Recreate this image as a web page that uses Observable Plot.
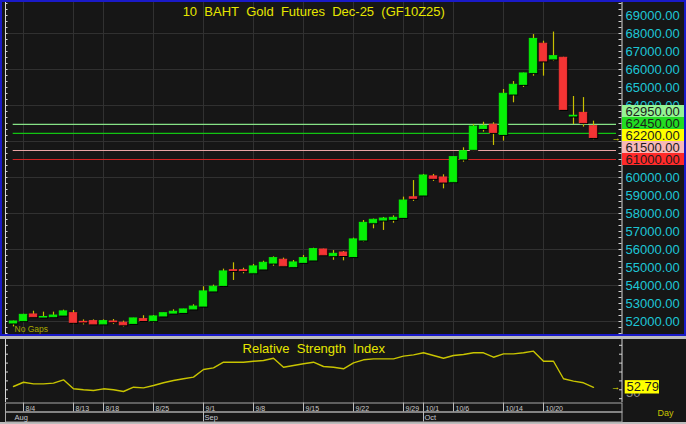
<!DOCTYPE html>
<html><head><meta charset="utf-8">
<script src="https://cdn.jsdelivr.net/npm/d3@7"></script>
<script src="https://cdn.jsdelivr.net/npm/@observablehq/plot@0.6"></script>
<style>
html,body{margin:0;padding:0;background:#bdbdbd;}
#wrap{position:relative;width:686px;height:424px;overflow:hidden;background:#bdbdbd;font-family:"Liberation Sans",Arial,sans-serif;}
#main{position:absolute;left:0;top:0;width:686px;height:336px;}
#mainBorder{position:absolute;left:0;top:0;width:686px;height:336px;box-sizing:border-box;border:2px solid #1a1ac8;pointer-events:none;}
#lower{position:absolute;left:0;top:339px;width:686px;height:83px;background:#161616;}
#rsi{position:absolute;left:0;top:339px;width:686px;height:63px;}
#dates{position:absolute;left:0;top:402px;width:686px;height:10px;}
#months{position:absolute;left:0;top:411px;width:686px;height:11px;}
svg{overflow:visible;}
</style></head>
<body><div id="wrap"><div id="main"></div><div id="mainBorder"></div><div id="lower"></div><div id="rsi"></div><div id="dates"></div><div id="months"></div></div>
<script>
// ---------- data ----------
const dates = ["8/1","8/4","8/5","8/6","8/7","8/8","8/13","8/14","8/15","8/18","8/19","8/20","8/21","8/22","8/25","8/26","8/27","8/28","8/29","9/1","9/2","9/3","9/4","9/5","9/8","9/9","9/10","9/11","9/12","9/15","9/16","9/17","9/18","9/19","9/22","9/23","9/24","9/25","9/26","9/29","9/30","10/1","10/2","10/3","10/6","10/7","10/8","10/9","10/10","10/14","10/15","10/16","10/17","10/20","10/21","10/22","10/24","10/27","10/28"];
const opens  = [51890,52020,52390,52220,52240,52330,52460,51980,52020,51840,52000,51930,51870,52130,52020,52280,52440,52480,52670,52830,53670,53980,54850,54850,54680,54890,55220,55430,55020,55260,55390,56000,55630,55830,55580,56500,57460,57610,57650,57760,58900,59000,60060,60000,59740,61000,61540,62700,62930,62370,64610,65150,65800,67430,66560,66650,63390,63590,62850];
const highs  = [52020,52400,52570,52520,52520,52630,52610,52090,52090,52090,52110,52020,52180,52320,52330,52470,52650,52680,52930,53930,54020,54910,55260,54960,55170,55350,55590,55520,55390,55670,56070,56020,55940,55890,56630,57610,57690,57780,57870,58910,59830,60170,60170,60150,61150,61650,62940,63070,63040,64890,65330,65800,67940,67570,68080,66680,64500,64440,63130];
const lows   = [51700,51980,52220,52220,52180,52320,51830,51810,51820,51800,51830,51690,51860,51980,51930,52240,52390,52470,52650,52820,53650,53910,54280,54650,54660,54870,55070,55030,54960,55250,55370,55650,55400,55370,55560,56410,57150,57060,57460,57730,58670,58990,59780,59370,59720,60850,61440,62520,61780,62020,64150,65000,65630,65630,66460,63740,62940,62800,62100];
const closes = [52000,52370,52240,52250,52330,52560,51930,51950,51840,52020,51960,51790,52170,52030,52280,52460,52540,52670,52830,53670,53930,54780,54810,54800,55060,55260,55520,55070,55280,55520,56020,55680,55760,55640,56560,57480,57650,57720,57760,58720,58820,60110,59930,59720,61130,61460,62830,62850,62480,64650,65150,65780,67700,66450,66740,63760,63430,63020,62200];
const rsiValues = [53.7,58.5,56.7,56.7,57.5,61.2,51.1,50.0,49.2,51.1,50.0,48.1,52.9,52.2,54.8,57.9,60.4,62.4,64.2,72.8,74.7,81.0,81.0,81.0,82.1,82.9,85.5,75.4,77.3,79.2,81.0,76.2,75.4,73.6,80.3,83.7,84.8,84.8,84.8,87.8,89.3,91.6,88.5,85.5,88.5,89.7,91.6,91.6,86.6,90.4,90.4,91.6,93.4,82.1,82.1,62.4,59.7,57.9,52.79];
const levels = [62950, 62450, 61500, 61000];
const priceTicks = [52000,53000,54000,55000,56000,57000,58000,59000,60000,61000,62000,63000,64000,65000,66000,67000,68000,69000];
const rsiTicks = [40,50,60,70,80,90,100];
const rsiLabelTicks = [50];
const dateTicks = ["8/4","8/13","8/18","8/25","9/1","9/8","9/15","9/22","9/29","10/1","10/6","10/14","10/20"];
const monthStarts = ["8/1","9/1","10/1"];
const monthNames = ["Aug","Sep","Oct"];
const title = "10 BAHT Gold Futures Dec-25 (GF10Z25)";
const rsiTitle = "Relative Strength Index";
const gapsLabel = "No Gaps";
const periodLabel = "Day";

// ---------- styling / layout ----------
const FONT = '"Liberation Sans", Arial, sans-serif';
const BG = "#161616", GRID = "#313131", AXIS = "#d6d6d6";
const GREEN = "#06f006", RED = "#f43434", WICK = "#c8c000";
const YELLOW = "#e6e600", RSI_COLOR = "#c8c400", CYAN = "#1ec6d6";
const levelStroke = ["#86e286", "#12c412", "#e8a4a4", "#d42424"];
const levelFill = ["#94f494", "#22dc22", "#f8b8b8", "#ff2a2a"];
const lastFill = "#ffff00";
const W = 686, mainH = 336, rsiH = 63;
const xMin = -0.8, xMax = 60.85;          // frame spans 5px .. 621.5px
const yMin = 51166.67, yMax = 69833.33;   // 18px per 1000
const pricePerPx = (yMax - yMin) / mainH;
const rsiMin = 35.73, rsiMax = 106.52;
const rsiPerPx = (rsiMax - rsiMin) / rsiH;
const spaced = s => s.split(" ").join("\u00a0 ");

const idx = d => dates.indexOf(d);
const candles = dates.map((d, i) => ({i, date: d, open: opens[i], high: highs[i], low: lows[i], close: closes[i]}));
const rsiData = rsiValues.map((v, i) => ({i, v}));
const tickIdx = dateTicks.map(idx);
const gridPrices = priceTicks.filter(v => v % 2000 === 0);
const minorTicks = d3.range(yMin + 1000/6, yMax, 1000/3);
const lastPrice = closes[closes.length - 1];
const lastRsi = rsiValues[rsiValues.length - 1];

// stacked price-label boxes on the right
const boxSpan = 12 * pricePerPx;
const boxes = levels.map((v, k) => ({value: v, fill: levelFill[k]})).concat([{value: lastPrice, fill: lastFill}])
  .sort((a, b) => a.value - b.value);
let prev = -Infinity;
for (const b of boxes) { b.pos = Math.max(b.value, prev + boxSpan); prev = b.pos; }
const levelLines = levels.map((v, k) => ({value: v, stroke: levelStroke[k]}));
// price labels that are entirely covered by a box are not drawn
const visiblePriceTicks = priceTicks.filter(t => !boxes.some(b => Math.abs(t - b.pos) < boxSpan / 2 - pricePerPx));

// ---------- main price panel ----------
const main = Plot.plot({
  width: W, height: mainH,
  marginLeft: 5, marginRight: 64.5, marginTop: 0, marginBottom: 0,
  style: {background: BG, fontFamily: FONT, overflow: "visible"},
  x: {domain: [xMin, xMax], axis: null},
  y: {domain: [yMin, yMax], axis: null},
  color: {type: "identity"},
  marks: [
    Plot.ruleY(gridPrices, {stroke: GRID}),
    Plot.ruleX(tickIdx, {stroke: GRID}),
    Plot.text([spaced(title)], {frameAnchor: "top", lineAnchor: "top", dy: 6, fill: YELLOW, fontSize: 13}),
    Plot.ruleY(levelLines, {y: "value", x1: -0.03, x2: 60.3, stroke: "stroke", strokeWidth: 1.2}),
    Plot.ruleX(candles, {x: "i", y1: "low", y2: "high", stroke: WICK, strokeWidth: 1.2}),
    Plot.rect(candles, {x1: d => d.i - 0.37, x2: d => d.i + 0.37, y1: "open", y2: "close", fill: "#000", stroke: "#000", dx: 1, dy: 1}),
    Plot.rect(candles, {x1: d => d.i - 0.37, x2: d => d.i + 0.37, y1: "open", y2: "close",
      fill: d => d.close >= d.open ? GREEN : RED, stroke: d => d.close >= d.open ? GREEN : RED}),
    Plot.ruleX([xMin], {stroke: AXIS}),
    Plot.ruleY(minorTicks, {x1: xMin, x2: xMin + 0.25, stroke: AXIS}),
    Plot.ruleX([xMax], {stroke: AXIS}),
    Plot.ruleY(minorTicks, {x1: xMax - 0.3, x2: xMax, stroke: AXIS}),
    Plot.text(visiblePriceTicks, {x: xMax, y: d => d, dx: 3.5, text: d => d.toFixed(2), textAnchor: "start", fill: CYAN, fontSize: 13}),
    Plot.rect(boxes, {x1: xMax + 0.05, x2: xMax + 6.25, y1: d => d.pos - boxSpan / 2, y2: d => d.pos + boxSpan / 2, fill: "fill"}),
    Plot.text(boxes, {x: xMax, y: "pos", dx: 3.5, text: d => d.value.toFixed(2), textAnchor: "start", fill: "#1c1c1c", fontSize: 13}),
    Plot.text([lastPrice], {x: xMax, y: d => d, dx: -6, text: () => "\u2192", fill: YELLOW, fontSize: 9, fontWeight: "bold"}),
    Plot.text([gapsLabel], {frameAnchor: "bottom-left", dx: 9, dy: -4.5, textAnchor: "start", fill: "#a8a800", fontSize: 8.5})
  ]
});
document.getElementById("main").appendChild(main);

// ---------- RSI panel ----------
const rsi = Plot.plot({
  width: W, height: rsiH,
  marginLeft: 5, marginRight: 64.5, marginTop: 0, marginBottom: 0,
  style: {background: "transparent", fontFamily: FONT, overflow: "visible"},
  x: {domain: [xMin, xMax], axis: null},
  y: {domain: [rsiMin, rsiMax], axis: null},
  marks: [
    Plot.ruleX(tickIdx, {stroke: GRID}),
    Plot.ruleX([xMin], {stroke: AXIS}),
    Plot.ruleY(rsiTicks, {x1: xMin, x2: xMin + 0.3, stroke: AXIS}),
    Plot.ruleX([xMax], {stroke: AXIS}),
    Plot.ruleY(rsiTicks, {x1: xMax - 0.25, x2: xMax + 0.05, stroke: AXIS}),
    Plot.text([spaced(rsiTitle)], {frameAnchor: "top", lineAnchor: "top", dy: 4.3, fill: YELLOW, fontSize: 13}),
    Plot.line(rsiData, {x: "i", y: "v", stroke: RSI_COLOR, strokeWidth: 1.4}),
    Plot.text(rsiLabelTicks, {x: xMax, y: d => d, dx: 4, dy: 3, text: d => String(d), textAnchor: "start", fill: "#8c8c8c", fontSize: 13}),
    Plot.rect([lastRsi], {x1: xMax + 0.32, x2: xMax + 3.75, y1: d => d - 6.7 * rsiPerPx, y2: d => d + 6.7 * rsiPerPx, fill: lastFill}),
    Plot.text([lastRsi], {x: xMax, y: d => d, dx: 4.5, text: d => d.toFixed(2), textAnchor: "start", fill: "#1c1c1c", fontSize: 13}),
    Plot.text([lastRsi], {x: xMax, y: d => d, dx: -6.5, text: () => "\u2192", fill: YELLOW, fontSize: 9, fontWeight: "bold"})
  ]
});
document.getElementById("rsi").appendChild(rsi);

// ---------- date row ----------
const dateRow = Plot.plot({
  width: W, height: 10,
  marginLeft: 5, marginRight: 64.5, marginTop: 0.5, marginBottom: 0.5,
  style: {background: "transparent", fontFamily: FONT, overflow: "visible"},
  x: {domain: [xMin, xMax], axis: null},
  marks: [
    Plot.frame({stroke: "#a8a8a8"}),
    Plot.ruleX(tickIdx, {stroke: "#bcbcbc"}),
    Plot.text(dateTicks, {x: idx, frameAnchor: "middle", dx: 2, dy: 1.3, text: d => d, textAnchor: "start",
      fill: "#c8c8c8", fontSize: 7, fontFamily: '"Liberation Sans Narrow", "Liberation Sans", Arial, sans-serif'})
  ]
});
document.getElementById("dates").appendChild(dateRow);

// ---------- month row ----------
const monthRow = Plot.plot({
  width: W, height: 11,
  marginLeft: 5, marginRight: 64.5, marginTop: 0.5, marginBottom: 0.5,
  style: {background: "transparent", fontFamily: FONT, overflow: "visible"},
  x: {domain: [xMin, xMax], axis: null},
  marks: [
    Plot.frame({stroke: "#a8a8a8"}),
    Plot.ruleX(monthStarts.slice(1).map(idx), {stroke: "#bcbcbc"}),
    Plot.text(monthStarts, {x: idx, frameAnchor: "middle", dx: 1, dy: 1, text: (d, i) => monthNames[i], textAnchor: "start",
      fill: "#c4c8d0", fontSize: 7.5}),
    Plot.text([periodLabel], {frameAnchor: "right", dx: 35.5, dy: -4, textAnchor: "start", fill: "#c8c400", fontSize: 9})
  ]
});
document.getElementById("months").appendChild(monthRow);
</script>
</body></html>
